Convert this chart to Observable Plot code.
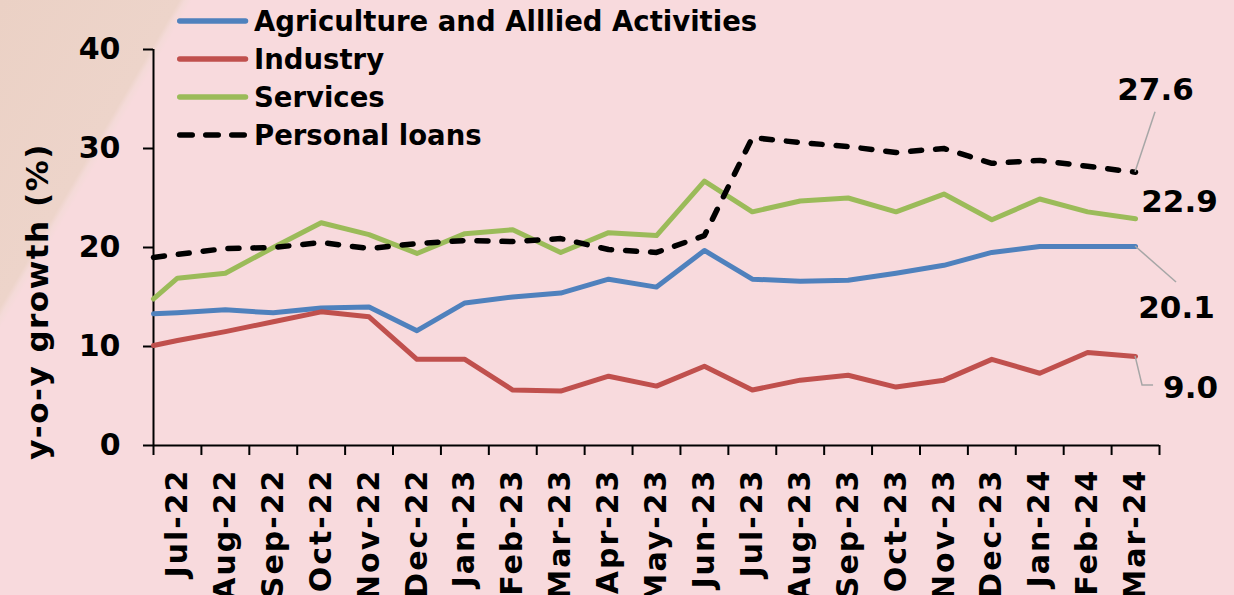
<!DOCTYPE html>
<html>
<head>
<meta charset="utf-8">
<script src="https://cdn.jsdelivr.net/npm/d3@7"></script>
<script src="https://cdn.jsdelivr.net/npm/@observablehq/plot@0.6"></script>
<style>
  html, body { margin: 0; padding: 0; background: #F8DADD; }
  #wrap { position: relative; width: 1234px; height: 595px; overflow: hidden;
          font-family: "DejaVu Sans", Verdana, sans-serif; color: #000;
          background: linear-gradient(120.3deg, #EBD1C5 0px, #EDD4CA 155px, #F4DAD8 160px, #F8DADD 166px, #F8DADD 100%); }
  #chart { position: absolute; left: 0; top: 0; }
  #chart svg { font-weight: bold; }
  #chart g[aria-label="x-axis tick label"] text { letter-spacing: 2px; }
  .leg { position: absolute; left: 177px; height: 40px; display: flex; align-items: center;
         font-weight: bold; font-size: 27.5px; white-space: nowrap; }
  .leg svg { display: block; margin-right: 5px; }
</style>
</head>
<body>
<div id="wrap">
  <div id="chart"></div>
  <div id="legend"></div>
</div>
<script>
// ---------------- data ----------------
const months = ["Jul-22","Aug-22","Sep-22","Oct-22","Nov-22","Dec-22","Jan-23","Feb-23","Mar-23","Apr-23",
                "May-23","Jun-23","Jul-23","Aug-23","Sep-23","Oct-23","Nov-23","Dec-23","Jan-24","Feb-24","Mar-24"];

const agriculture   = [13.4, 13.7, 13.4, 13.9, 14.0, 11.6, 14.4, 15.0, 15.4, 16.8, 16.0, 19.7, 16.8, 16.6, 16.7, 17.4, 18.2, 19.5, 20.1, 20.1, 20.1];
const industry      = [10.6, 11.5, 12.5, 13.5, 13.0,  8.7,  8.7,  5.6,  5.5,  7.0,  6.0,  8.0,  5.6,  6.6,  7.1,  5.9,  6.6,  8.7,  7.3,  9.4,  9.0];
const services      = [16.9, 17.4, 20.0, 22.5, 21.3, 19.4, 21.4, 21.8, 19.5, 21.5, 21.2, 26.7, 23.6, 24.7, 25.0, 23.6, 25.4, 22.8, 24.9, 23.6, 22.9];
const personalLoans = [19.3, 19.9, 20.0, 20.5, 19.9, 20.4, 20.7, 20.6, 20.9, 19.8, 19.5, 21.2, 31.1, 30.6, 30.2, 29.6, 30.0, 28.5, 28.8, 28.2, 27.6];

// value where each line meets the left axis (lines start at the axis edge)
const edgeValues = [13.3, 10.1, 14.8, 19.0];

const seriesNames = ["Agriculture and Alllied Activities", "Industry", "Services", "Personal loans"];
const seriesValues = [agriculture, industry, services, personalLoans];
const seriesColors = ["#4F81BD", "#C0504D", "#9BBB59", "#000000"];
const yTicks = [0, 10, 20, 30, 40];

// ---------------- build rows ----------------
const rows = [];
seriesNames.forEach((name, s) => {
  rows.push({series: name, i: -0.5, v: edgeValues[s]});
  seriesValues[s].forEach((v, i) => rows.push({series: name, i, v}));
});
const last = months.length - 1;
const endPoint = s => [{i: last, v: seriesValues[s][last]}];

// leader-line shapes (pixel offsets from the end point)
const leaderShapes = [
  {s: 3, pts: [[0, 0], [20, -60]]},
  {s: 0, pts: [[0, 0], [41, 36]]},
  {s: 1, pts: [[0, 0], [7, 29], [18, 29]]}
];

function leaders(index, scales) {
  const g = d3.create("svg:g").attr("fill", "none").attr("stroke", "#A6A6A6").attr("stroke-width", 1.5);
  for (const L of leaderShapes) {
    const x0 = scales.x(last), y0 = scales.y(seriesValues[L.s][last]);
    g.append("path").attr("d", "M" + L.pts.map(([dx, dy]) => (x0 + dx) + "," + (y0 + dy)).join("L"));
  }
  return g.node();
}

const lineMarks = seriesNames.map((name, s) =>
  Plot.line(rows.filter(d => d.series === name), {
    x: "i", y: "v", stroke: seriesColors[s],
    strokeWidth: s === 3 ? 5.5 : 5,
    strokeLinejoin: "round", strokeLinecap: "round",
    strokeDasharray: s === 3 ? "11,14" : null
  })
);

const labelStyle = {x: "i", y: "v", text: d => d.v.toFixed(1), fontSize: 31, fontWeight: "bold", fill: "#000", textAnchor: "middle"};

const plot = Plot.plot({
  width: 1234, height: 595,
  marginLeft: 153, marginRight: 75, marginTop: 49, marginBottom: 150,
  x: {type: "linear", domain: [-0.5, months.length - 0.5]},
  y: {domain: [0, 40]},
  style: {background: "transparent", fontFamily: "'DejaVu Sans', Verdana, sans-serif", color: "#000", fontWeight: "bold"},
  marks: [
    Plot.axisY({ticks: yTicks, tickSize: 10, tickPadding: 23, fontSize: 30, fontWeight: "bold", strokeWidth: 2, label: null, tickFormat: d => String(d)}),
    Plot.axisX({ticks: d3.range(-0.5, months.length, 1), tickSize: 10, strokeWidth: 2, tickFormat: () => "", label: null}),
    Plot.axisX({ticks: d3.range(months.length), tickSize: 0, tickPadding: 23, tickRotate: -90, fontSize: 30, fontWeight: "bold", tickFormat: i => months[i], label: null}),
    Plot.ruleX([-0.5], {y1: 0, y2: 40, stroke: "#000", strokeWidth: 2}),
    Plot.ruleY([0], {stroke: "#000", strokeWidth: 2}),
    ...lineMarks,
    leaders,
    Plot.text(endPoint(3), {...labelStyle, dx: 20, dy: -82}),
    Plot.text(endPoint(2), {...labelStyle, dx: 44, dy: -17}),
    Plot.text(endPoint(0), {...labelStyle, dx: 41, dy: 62}),
    Plot.text(endPoint(1), {...labelStyle, dx: 55, dy: 32}),
    Plot.text(["y-o-y growth (%)"], {frameAnchor: "left", rotate: -90, textAnchor: "middle", dx: -115, dy: 54,
      fontSize: 31, fontWeight: "bold", fill: "#000", text: d => d})
  ]
});
document.getElementById("chart").appendChild(plot);
// letter spacing for y title
d3.select(plot).selectAll("text").filter(function() { return this.textContent === "y-o-y growth (%)"; })
  .style("letter-spacing", "1.5px");

// ---------------- legend ----------------
const legendCenters = [20.7, 59.3, 96.7, 135];
const legend = d3.select("#legend");
seriesNames.forEach((name, s) => {
  const row = legend.append("div").attr("class", "leg").style("top", (legendCenters[s] - 20) + "px");
  const sw = row.append("svg").attr("width", 72).attr("height", 10);
  sw.append("line").attr("x1", 2.75).attr("x2", s === 3 ? 68.25 : 68.5).attr("y1", 5).attr("y2", 5)
    .attr("stroke", seriesColors[s]).attr("stroke-width", 5.5).attr("stroke-linecap", "round")
    .attr("stroke-dasharray", s === 3 ? "12.5,13.5" : null);
  row.append("span").text(name);
});
</script>
</body>
</html>
